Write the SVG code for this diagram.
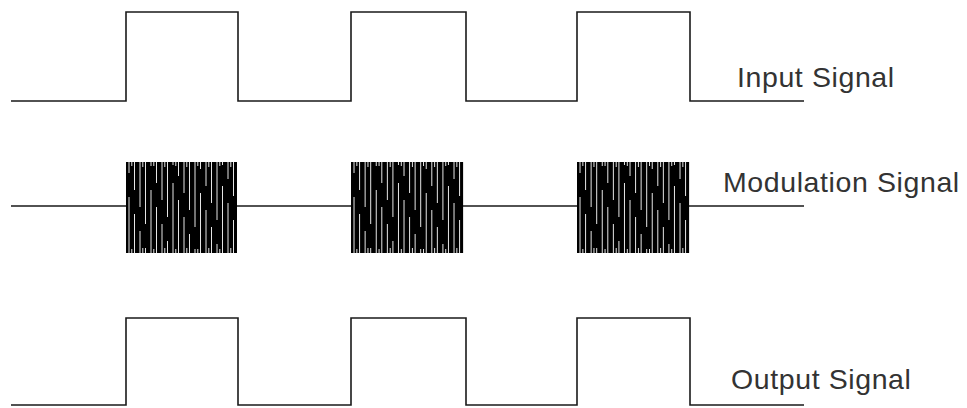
<svg xmlns="http://www.w3.org/2000/svg" width="967" height="408" viewBox="0 0 967 408">
<style>
.wave{fill:none;stroke:#1a1a1a;stroke-width:1.6;stroke-linejoin:miter}
.lbl{font-family:"Liberation Sans",Arial,sans-serif;font-size:28.5px;letter-spacing:0.6px;fill:#333}
.streak{fill:none;stroke:#fff;stroke-width:0.9}
</style>
<defs>
<g id="burst">
<rect x="0" y="0" width="111" height="91" fill="#000"/>
<path class="streak" d="M3,0V11M3,35V91M8.5,0V28M8.5,52V91M14,0V45M14,69V91M19.5,0V62M19.5,86V91M25,0V4M25,28V91M30.5,0V21M30.5,45V91M36,0V38M36,62V91M41.5,0V55M41.5,79V91M47,0V3M47,21V91M52.5,0V14M52.5,38V91M58,0V31M58,55V91M63.5,0V48M63.5,72V91M69,0V65M69,87V91M74.5,0V7M74.5,31V91M80,0V24M80,48V91M85.5,0V41M85.5,65V91M91,0V58M91,82V91M96.5,0V3M96.5,24V91M102,0V17M102,41V91M107.5,0V34M107.5,58V91"/>
<path class="streak" d="M5.8,0V4M5.8,87V91M16.8,0V5M16.8,86V91M27.8,0V4M27.8,87V91M38.8,0V5M38.8,86V91M49.8,0V4M49.8,87V91M60.8,0V5M60.8,86V91M71.8,0V4M71.8,87V91M82.8,0V5M82.8,86V91M93.8,0V4M93.8,87V91M104.8,0V5M104.8,86V91"/>
</g>
</defs>
<g id="input-signal">
<path class="wave" d="M11,101H126V12H238V101H351V12H466V101H577V12H690V101H804"/>
<text class="lbl" x="737" y="87">Input Signal</text>
</g>
<g id="modulation-signal">
<path class="wave" d="M11,206H126M237,206H351M463,206H577M689,206H804"/>
<use href="#burst" x="126" y="162"/>
<use href="#burst" x="351" y="162" transform="translate(351 0) scale(1.01 1) translate(-351 0)"/>
<use href="#burst" x="577" y="162" transform="translate(577 0) scale(1.01 1) translate(-577 0)"/>
<text class="lbl" x="723" y="192">Modulation Signal</text>
</g>
<g id="output-signal">
<path class="wave" d="M11,405H126V318H238V405H351V318H466V405H577V318H690V405H804"/>
<text class="lbl" x="731" y="389">Output Signal</text>
</g>
<g id="connectors"></g>
</svg>
